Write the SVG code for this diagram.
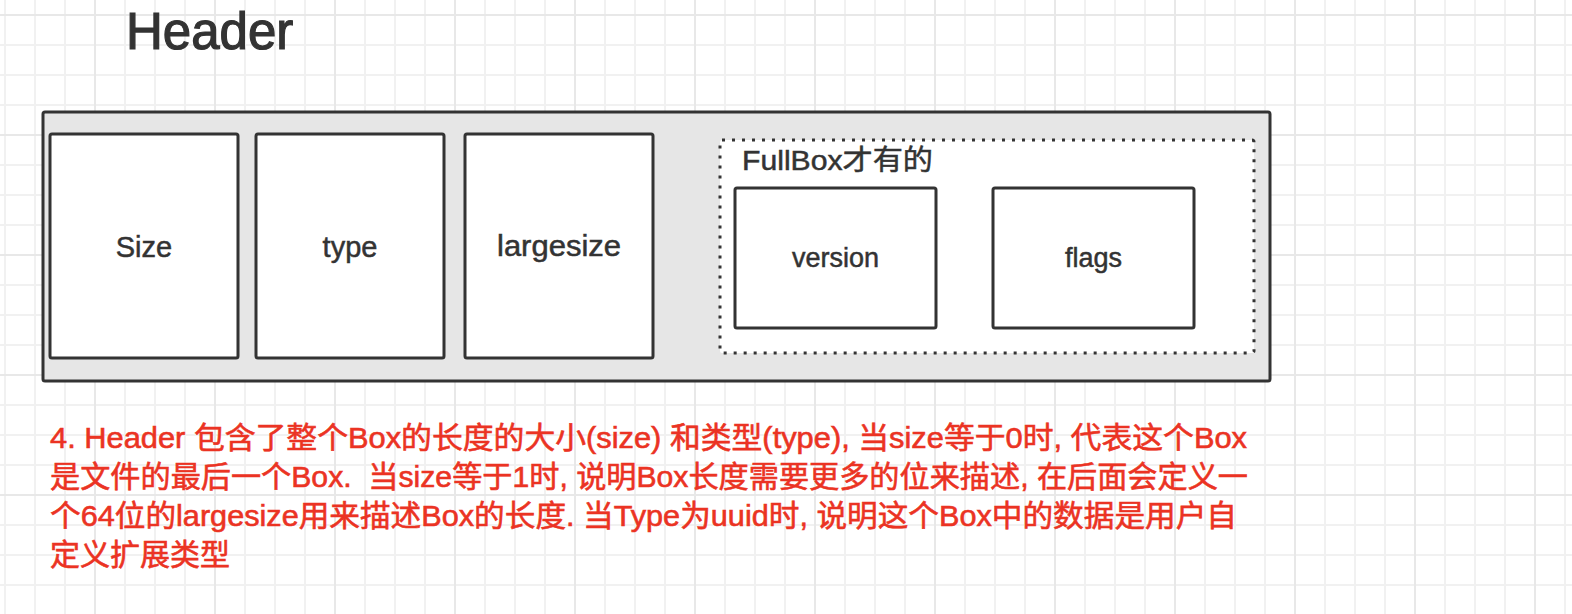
<svg xmlns="http://www.w3.org/2000/svg" width="1572" height="614" viewBox="0 0 1572 614">
<defs>
<pattern id="gMinor" patternUnits="userSpaceOnUse" x="-10" y="0" width="30" height="30">
<path d="M15 0 V30 M0 15 H30" stroke="#f1f1f1" stroke-width="2" fill="none"/>
</pattern>
<pattern id="gMajor" patternUnits="userSpaceOnUse" x="35" y="-45" width="120" height="120">
<path d="M60 0 V120 M0 60 H120" stroke="#e8e8e8" stroke-width="2" fill="none"/>
</pattern>
<style>
.box{fill:#ffffff;stroke:#333333;stroke-width:3}
.lbl{font-family:"Liberation Sans","Noto Sans CJK SC",sans-serif;fill:#333333;stroke:#333333;stroke-width:0.5;text-anchor:middle}
.big{font-size:29px}
.mid{font-size:27px}
.note{font-family:"Liberation Sans","Noto Sans CJK SC",sans-serif;font-size:30px;fill:#eb3323;stroke:#eb3323;stroke-width:0.6}
</style>
</defs>
<rect width="1572" height="614" fill="#ffffff"/>
<rect width="1572" height="614" fill="url(#gMinor)"/>
<rect width="1572" height="614" fill="url(#gMajor)"/>

<g id="title">
<text x="126" y="49" font-family="'Liberation Sans','Noto Sans CJK SC',sans-serif" font-size="51" fill="#333333" stroke="#333333" stroke-width="1.2">Header</text>
</g>

<g id="header-box">
<rect x="43" y="112" width="1227" height="269" rx="2" fill="#e6e6e6" stroke="#333333" stroke-width="3"/>
</g>

<g id="size-node">
<rect class="box" x="50" y="134" width="188" height="224" rx="2"/>
<text class="lbl big" x="144" y="257">Size</text>
</g>
<g id="type-node">
<rect class="box" x="256" y="134" width="188" height="224" rx="2"/>
<text class="lbl big" x="350" y="257">type</text>
</g>
<g id="largesize-node">
<rect class="box" x="465" y="134" width="188" height="224" rx="2"/>
<text class="lbl big" x="559" y="256" textLength="124" lengthAdjust="spacingAndGlyphs">largesize</text>
</g>

<g id="fullbox-group">
<rect x="720" y="140" width="534" height="213" rx="2" fill="#ffffff" stroke="#333333" stroke-width="3" stroke-dasharray="3 7"/>
<text x="742" y="170" font-family="'Liberation Sans','Noto Sans CJK SC',sans-serif" font-size="28" fill="#333333" stroke="#333333" stroke-width="0.5" textLength="191" lengthAdjust="spacingAndGlyphs">FullBox才有的</text>
</g>
<g id="version-node">
<rect class="box" x="735" y="188" width="201" height="140" rx="2"/>
<text class="lbl mid" x="835.5" y="267">version</text>
</g>
<g id="flags-node">
<rect class="box" x="993" y="188" width="201" height="140" rx="2"/>
<text class="lbl mid" x="1093.5" y="267">flags</text>
</g>

<g id="connectors"></g>

<g id="note">
<text class="note" x="50" y="448" textLength="1197" lengthAdjust="spacingAndGlyphs">4. Header 包含了整个Box的长度的大小(size) 和类型(type), 当size等于0时, 代表这个Box</text>
<text class="note" x="50" y="487" textLength="1198" lengthAdjust="spacingAndGlyphs">是文件的最后一个Box.&#160; 当size等于1时, 说明Box长度需要更多的位来描述, 在后面会定义一</text>
<text class="note" x="50" y="526" textLength="1187" lengthAdjust="spacingAndGlyphs">个64位的largesize用来描述Box的长度. 当Type为uuid时, 说明这个Box中的数据是用户自</text>
<text class="note" x="50" y="565">定义扩展类型</text>
</g>
</svg>
